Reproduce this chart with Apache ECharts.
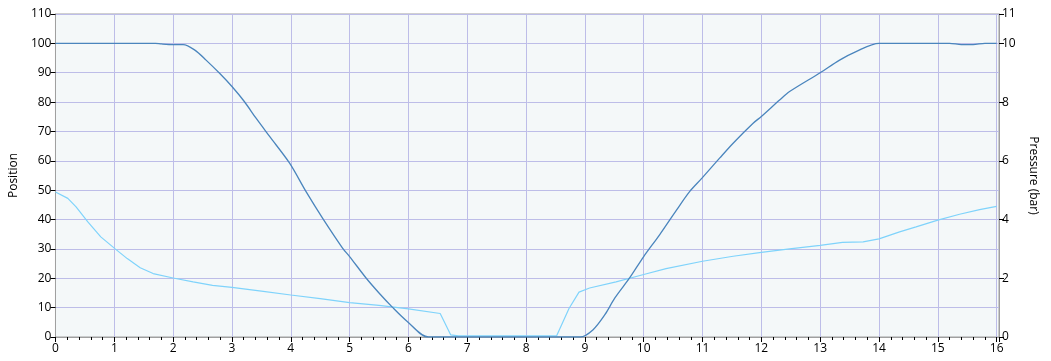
<!DOCTYPE html>
<html>
<head>
<meta charset="utf-8">
<script src="https://cdn.jsdelivr.net/npm/echarts@6/dist/echarts.min.js"></script>
<style>
html,body{margin:0;padding:0;background:#fff;}
#c{width:1051px;height:361px;}
</style>
</head>
<body>
<div id="c"></div>
<script>
// ---- data ----
var posX = [0, 1.7, 1.8, 2.0, 2.17, 2.37, 2.56, 2.79, 3.0, 3.21, 3.41, 3.64, 3.98, 4.26, 4.54, 4.88, 5.0, 5.28, 5.5, 5.73, 5.98, 6.34, 8.92, 9.14, 9.34, 9.51, 9.76, 10.0, 10.27, 10.56, 10.78, 10.99, 11.29, 11.52, 11.86, 12.0, 12.31, 12.48, 13.0, 13.33, 13.61, 14.0, 15.2, 15.4, 15.6, 15.8, 16.0];
var posY = [100, 100, 99.8, 99.6, 99.6, 97.7, 94.3, 89.8, 85.3, 80.2, 74.5, 68.3, 59.2, 49.5, 40.5, 30.3, 27.4, 20.1, 15.0, 10.1, 5.3, 0, 0, 2.5, 7.6, 13.3, 20.1, 27.4, 34.8, 43.3, 49.5, 54.1, 60.9, 66.0, 72.8, 75.1, 80.7, 83.6, 90.0, 94.3, 97.2, 100, 100, 99.6, 99.6, 100, 100];
var presX = [0, 0.21, 0.35, 0.55, 0.77, 1.01, 1.22, 1.44, 1.66, 2.0, 2.34, 2.67, 3.0, 3.5, 4.0, 4.5, 5.0, 5.5, 6.0, 6.54, 6.72, 6.85, 8.52, 8.73, 8.9, 9.08, 9.53, 10.0, 10.38, 11.0, 11.52, 12.0, 12.48, 13.0, 13.38, 13.73, 14.0, 14.35, 14.63, 15.0, 15.37, 15.71, 16.0];
var presY = [4.94, 4.72, 4.43, 3.92, 3.41, 3.01, 2.67, 2.36, 2.16, 2.01, 1.88, 1.76, 1.69, 1.56, 1.43, 1.31, 1.17, 1.08, 0.96, 0.80, 0.07, 0.04, 0.04, 0.97, 1.53, 1.67, 1.88, 2.13, 2.33, 2.58, 2.75, 2.88, 3.0, 3.12, 3.22, 3.24, 3.34, 3.58, 3.75, 3.98, 4.18, 4.34, 4.45];
var leftAxisName = "Position";
var rightAxisName = "Pressure (bar)";

function pairs(xs, ys){ return xs.map(function(x,i){ return [x, ys[i]]; }); }

var font = "'Open Sans', 'Noto Sans', sans-serif";
var axisGray = '#a0a0a0';
var gridColor = '#bdbde8';

var chart = echarts.init(document.getElementById('c'), null, {renderer:'canvas'});
chart.setOption({
  animation: false,
  textStyle: {fontFamily: font},
  grid: {left: 54, right: 52, top: 14, bottom: 24, show: true, backgroundColor: '#f4f8f9', borderColor: axisGray, borderWidth: 1},
  xAxis: {
    type: 'value', min: 0, max: 16.04, interval: 1,
    axisLine: {show: true, lineStyle: {color: axisGray}},
    axisTick: {show: true, length: 5, lineStyle: {color: '#000'}},
    minorTick: {show: true, splitNumber: 5, length: 3, lineStyle: {color: '#000'}},
    axisLabel: {color: '#000', fontSize: 12, fontFamily: font, margin: 6,
      formatter: function(v){ return Math.abs(v - Math.round(v)) < 1e-6 ? String(Math.round(v)) : ''; }},
    splitLine: {show: true, lineStyle: {color: gridColor, width: 1}}
  },
  yAxis: [{
    type: 'value', min: 0, max: 110, interval: 10, position: 'left',
    name: leftAxisName, nameLocation: 'middle', nameGap: 31, nameRotate: 90,
    nameTextStyle: {color: '#000', fontSize: 12, fontFamily: font},
    axisLine: {show: true, lineStyle: {color: axisGray}},
    axisTick: {show: true, length: 5, lineStyle: {color: '#000'}},
    axisLabel: {color: '#000', fontSize: 12, fontFamily: font, margin: 4},
    splitLine: {show: true, lineStyle: {color: gridColor, width: 1}}
  }, {
    type: 'value', min: 0, max: 11, interval: 2, position: 'right',
    name: rightAxisName, nameLocation: 'middle', nameGap: 28, nameRotate: -90,
    nameTextStyle: {color: '#000', fontSize: 12, fontFamily: font},
    axisLine: {show: true, lineStyle: {color: axisGray}},
    axisTick: {show: true, length: 5, lineStyle: {color: '#000'}},
    axisLabel: {color: '#000', fontSize: 12, fontFamily: font, margin: 3},
    splitLine: {show: false}
  }],
  series: [{
    type: 'line', name: 'Pressure', yAxisIndex: 1, showSymbol: false, symbol: 'none',
    smooth: false,
    data: pairs(presX, presY), lineStyle: {color: '#7fd3fb', width: 1.2}, z: 3
  }, {
    type: 'line', name: 'Position', yAxisIndex: 0, showSymbol: false, symbol: 'none',
    smooth: 0.3,
    data: pairs(posX, posY), lineStyle: {color: '#4a85bd', width: 1.3}, z: 4
  }]
});
</script>
</body>
</html>
